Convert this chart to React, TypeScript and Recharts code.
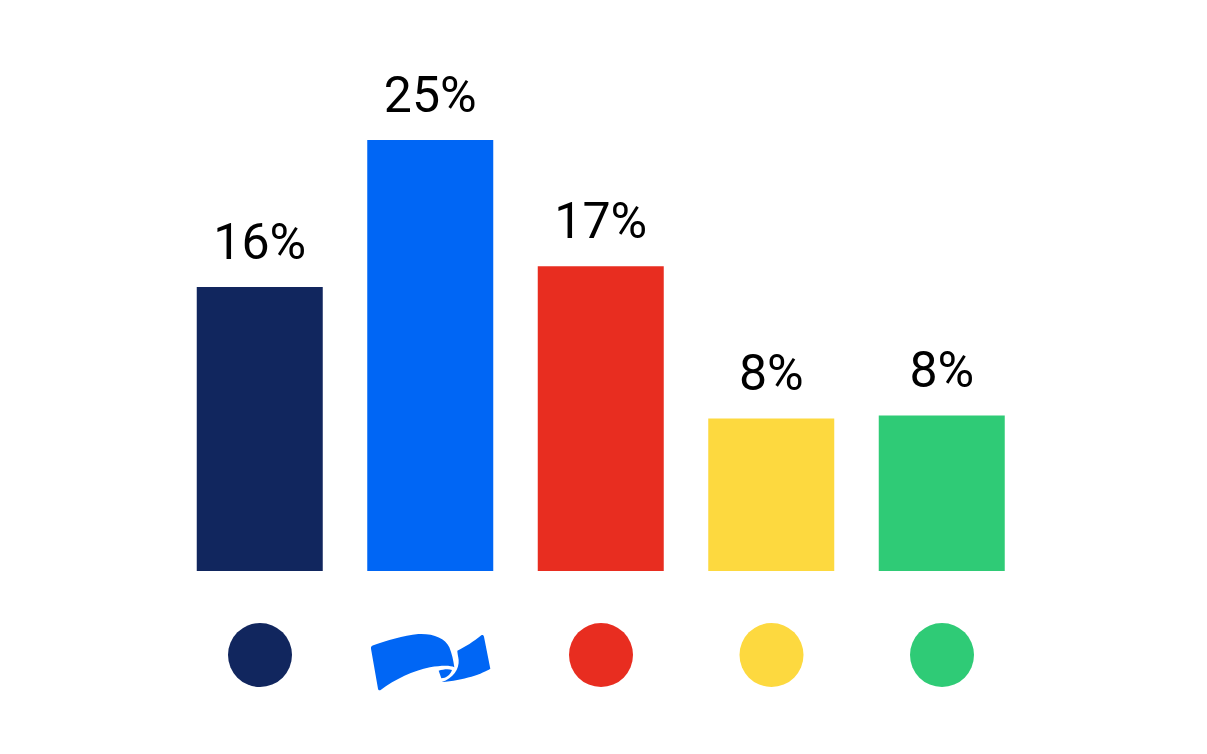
import { Bar, BarChart, Cell, LabelList, XAxis, YAxis } from "recharts"

const categories = ["navy", "blue", "red", "yellow", "green"]
const heights = [16.47, 25, 17.67, 8.85, 9.02]
const labels = ["16%", "25%", "17%", "8%", "8%"]
const colors = ["#11265E", "#0066F5", "#E82D20", "#FDD93F", "#2FCB76"]

const data = categories.map((name, i) => ({ name, value: heights[i], label: labels[i] }))

// middle category gets the flag logo, others a plain dot
function IconTick({ x, y, index }: any) {
  const color = colors[index]
  if (categories[index] === "blue") {
    return (
      <g transform={`translate(${x},${y + 84}) translate(-80.5,-45) scale(0.3333)`} fill={color}>
        <path d="M70 106 C110 92 160 76 205 72 C250 70 285 84 298 112 C306 132 310 150 313 172 C302 166 275 166 240 172 C190 182 135 208 92 240 C88 242 85 240 84 236 L63 116 C62 110 65 108 70 106 Z" />
        <path d="M322 122 C345 112 372 94 394 76 C398 74 401 76 402 80 L421 176 C400 190 340 212 275 216 C310 206 328 176 326 150 C325 140 322 130 322 122 Z" />
        <path d="M266 182 C280 178 295 176 306 180 C300 196 288 204 274 205 Z" />
      </g>
    )
  }
  return <circle cx={x} cy={y + 84} r={32} fill={color} />
}

export default function App() {
  return (
    <div style={{ position: "absolute", left: 0, top: 0, background: "#fff" }}>
      <BarChart
        width={1207}
        height={754}
        data={data}
        barCategoryGap={0}
        margin={{ top: 140, right: 179.75, bottom: 0, left: 174.75 }}
      >
        <YAxis hide domain={[0, 25]} />
        <XAxis
          dataKey="name"
          axisLine={false}
          tickLine={false}
          tickSize={0}
          tickMargin={0}
          height={183}
          interval={0}
          tick={<IconTick />}
        />
        <Bar dataKey="value" barSize={126} isAnimationActive={false}>
          {data.map((d, i) => (
            <Cell key={d.name} fill={colors[i]} />
          ))}
          <LabelList
            dataKey="label"
            position="top"
            offset={28}
            fill="#000"
            fontSize={50}
            fontFamily="Roboto"
          />
        </Bar>
      </BarChart>
    </div>
  )
}
